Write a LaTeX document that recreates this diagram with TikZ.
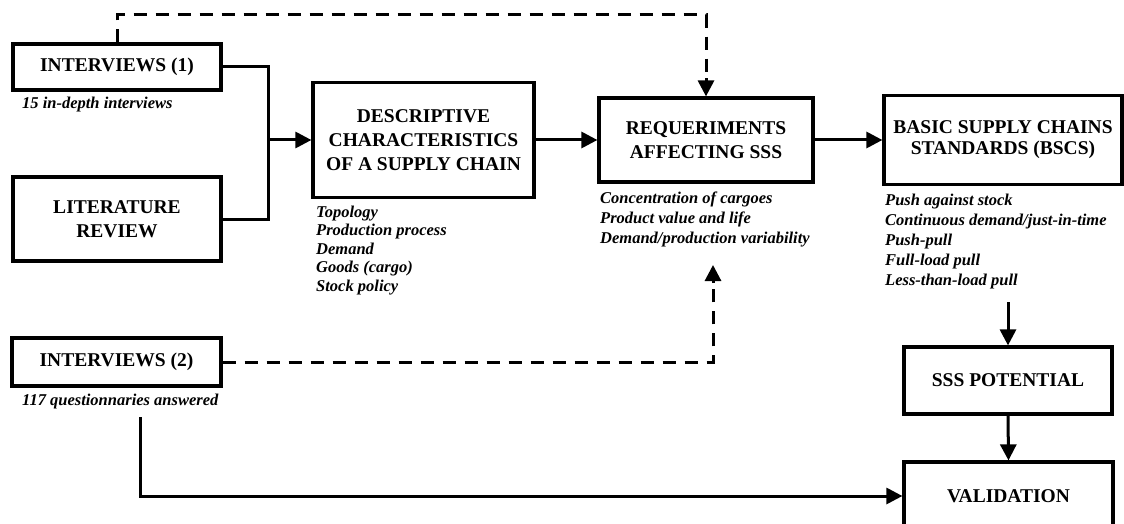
\documentclass[tikz,border=0pt]{standalone}
\usepackage{fontspec}
\setmainfont{Liberation Serif}
\usetikzlibrary{arrows.meta}
\begin{document}
\begin{tikzpicture}[x=1pt,y=-1pt,
  box/.style={draw, line width=3.2pt, align=center, inner sep=0pt,
    font=\bfseries\fontsize{19.5}{24}\selectfont},
  note/.style={anchor=north west, inner sep=0pt, align=left,
    font=\bfseries\itshape\fontsize{16.5}{20}\selectfont},
  link/.style={line width=3pt},
  tip/.style={-{Triangle[length=16pt,width=16pt]}},
  flow/.style={link, tip},
  dashlink/.style={link, dash pattern=on 13pt off 9pt},
]
\useasboundingbox (0,0) rectangle (1124,524);

% boxes
\node[box, minimum width=208pt, minimum height=46pt] (int1) at (117,67) {INTERVIEWS (1)};
\node[box, minimum width=208pt, minimum height=84pt] (lit) at (117,219) {LITERATURE\\REVIEW};
\node[box, minimum width=221pt, minimum height=115pt] (desc) at (423.5,140) {DESCRIPTIVE\\CHARACTERISTICS\\OF A SUPPLY CHAIN};
\node[box, minimum width=214pt, minimum height=84pt] (req) at (706,140) {REQUERIMENTS\\AFFECTING SSS};
\node[box, minimum width=238pt, minimum height=89pt,
  font=\bfseries\fontsize{19.5}{21}\selectfont] (bscs) at (1003,140) {BASIC SUPPLY CHAINS\\STANDARDS (BSCS)};
\node[box, minimum width=209pt, minimum height=48pt] (int2) at (116.5,362) {INTERVIEWS (2)};
\node[box, minimum width=208pt, minimum height=67pt] (sss) at (1008,380.5) {SSS POTENTIAL};
\node[box, minimum width=209pt, minimum height=68pt] (val) at (1008.5,496) {VALIDATION};

% notes under the boxes
\node[note] (int1note) at (22,94) {\strut 15 in-depth interviews};
\node[note] (int2note) at (22,391) {\strut 117 questionnaries answered};
\node[note, font=\bfseries\itshape\fontsize{16.5}{18.5}\selectfont] (descnote) at (316,204)
  {\strut Topology\\Production process\\Demand\\Goods (cargo)\\Stock policy};
\node[note] (reqnote) at (600,189)
  {\strut Concentration of cargoes\\Product value and life\\Demand/production variability};
\node[note] (bscsnote) at (885,191)
  {\strut Push against stock\\Continuous demand/just-in-time\\Push-pull\\Full-load pull\\Less-than-load pull};

% free ends of connectors
\coordinate (join) at (268,140);
\coordinate (topturn) at (117,15);
\coordinate (reqin) at (713,265);
\coordinate (qline) at (140,417);
\coordinate (bsout) at (1008,302);

% solid flow
\draw[link] (int1.east) -| (join) |- (lit.east);
\draw[flow] (join) -- (desc.west);
\draw[flow] (desc.east) -- (req.west);
\draw[flow] (req.east) -- (bscs.west);
\draw[flow] (bsout) -- (sss.north);
\draw[flow] (sss.south) -- (val.north);
\draw[flow] (qline) |- (val.west);

% dashed feedback, with solid heads at their ends
\draw[dashlink] (int1.north) -- (topturn) -| ([yshift=16pt]req.north);
\draw[link, tip] ([yshift=18pt]req.north) -- (req.north);
\draw[dashlink] (int2.east) -| ([yshift=-16pt]reqin);
\draw[link, tip] ([yshift=-18pt]reqin) -- (reqin);
\end{tikzpicture}
\end{document}
